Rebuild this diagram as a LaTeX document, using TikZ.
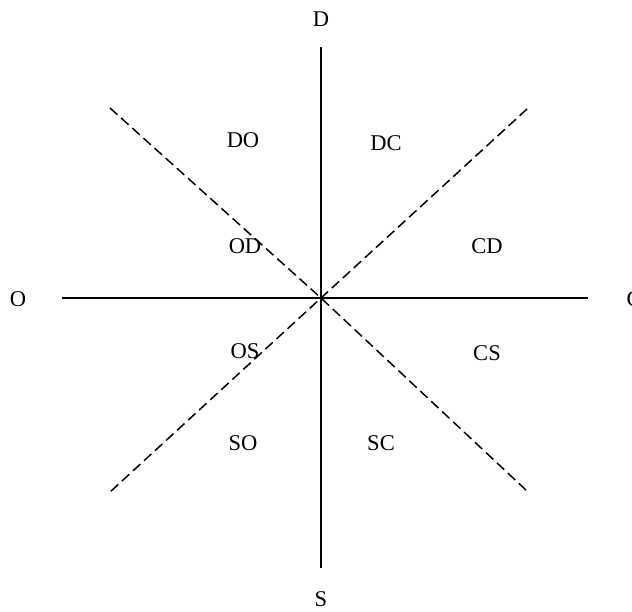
\documentclass[tikz,border=0pt]{standalone}
\usepackage{fontspec}
\setmainfont{Liberation Serif}
\begin{document}
\begin{tikzpicture}[x=1pt,y=-1pt,
  axis/.style={line width=1.6pt},
  diag/.style={line width=1.5pt,dash pattern=on 10pt off 5pt},
  lbl/.style={font=\fontsize{22.5}{26}\selectfont,inner sep=0pt}]
\useasboundingbox (0,0) rectangle (632,611);
\coordinate (c) at (321,298);
\coordinate (top) at (321,47);
\coordinate (bot) at (321,568);
\coordinate (lft) at (62,298);
\coordinate (rgt) at (588,298);
\coordinate (tl) at (110,108);
\coordinate (br) at (527,491);
\coordinate (tr) at (527,109);
\coordinate (bl) at (110,492);
\draw[axis] (top) -- (bot);
\draw[axis] (lft) -- (rgt);
\draw[diag] (tl) -- (c) -- (br);
\draw[diag] (tr) -- (c) -- (bl);
\node[lbl] (D) at (321,19) {D};
\node[lbl] (S) at (321,599) {S};
\node[lbl] (O) at (18,299) {O};
\node[lbl] (C) at (634,299) {C};
\node[lbl] (DO) at (243,140) {DO};
\node[lbl] (DC) at (386,143) {DC};
\node[lbl] (OD) at (245,246) {OD};
\node[lbl] (CD) at (487,246) {CD};
\node[lbl] (OS) at (245,351) {OS};
\node[lbl] (CS) at (487,353) {CS};
\node[lbl] (SO) at (243,443) {SO};
\node[lbl] (SC) at (381,443) {SC};
\end{tikzpicture}
\end{document}
